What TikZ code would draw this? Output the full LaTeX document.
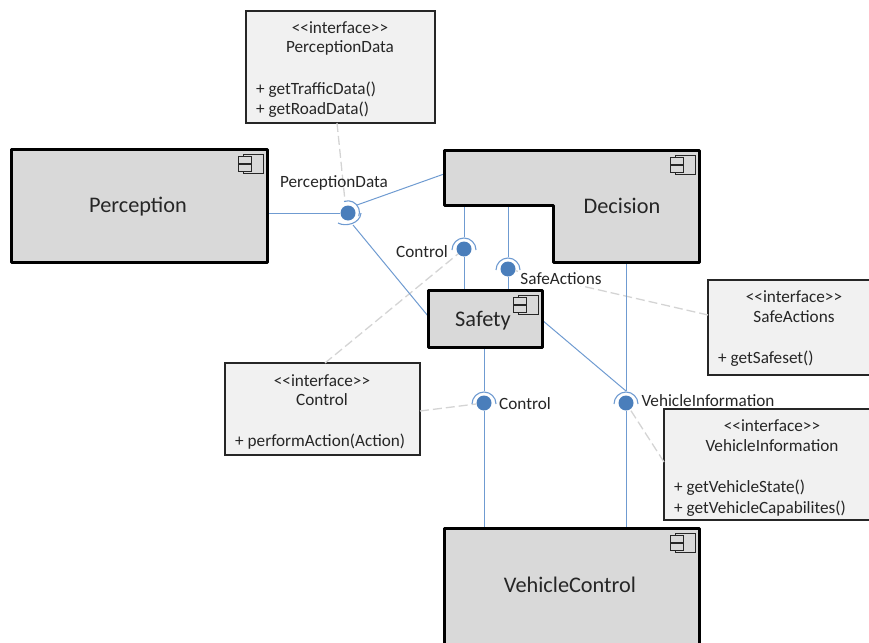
\documentclass[tikz,border=0pt]{standalone}
\usepackage{fontspec}
\usetikzlibrary{calc}
\setmainfont{Carlito}
\definecolor{txt}{HTML}{262626}
\definecolor{edgeblue}{HTML}{6F9BD1}
\definecolor{ballblue}{HTML}{4A7EBB}
\definecolor{dashgray}{HTML}{D4D4D4}
\definecolor{compfill}{HTML}{D9D9D9}
\definecolor{ifacefill}{HTML}{F1F1F1}
\tikzset{
  comp/.style={draw=black,line width=3pt,fill=compfill,line join=round},
  iface/.style={draw=txt,line width=2pt,fill=ifacefill},
  maintext/.style={text=txt,font=\fontsize{22.3}{24}\selectfont,inner sep=0pt},
  smalltext/.style={text=txt,font=\fontsize{17.2}{19}\selectfont,inner sep=0pt},
  lefttext/.style={smalltext,anchor=west},
  ball/.style={circle,fill=ballblue,minimum size=15pt,inner sep=0pt},
  wire/.style={draw=edgeblue,line width=1pt},
  sock/.style={draw=edgeblue,line width=1.1pt},
  dashline/.style={draw=dashgray,line width=1.3pt,dash pattern=on 9pt off 4pt},
  icon/.pic={
    \draw[line width=1pt,draw=txt] (-24,5) rectangle (-4,24);
    \draw[line width=1pt,draw=txt,fill=compfill] (-29,7) rectangle (-16,14);
    \draw[line width=1pt,draw=txt,fill=compfill] (-29,15) rectangle (-16,22);
  }
}
\begin{document}
\begin{tikzpicture}[x=1pt,y=-1pt]
\useasboundingbox (0,0) rectangle (869,642);
\clip (0,0) rectangle (869,642);

% balls
\node[ball] (bPD) at (348,213) {};
\node[ball] (bCu) at (464,249) {};
\node[ball] (bSA) at (508,269) {};
\node[ball] (bCl) at (484,403) {};
\node[ball] (bVI) at (626,403) {};

% connector end points
\coordinate (pE) at (267,213);
\coordinate (dW) at (444,174);
\coordinate (dS1) at (464,205);
\coordinate (dS2) at (508,205);
\coordinate (dS3) at (626,262);
\coordinate (sW) at (428,316);
\coordinate (sN1) at (464,290);
\coordinate (sN2) at (508,290);
\coordinate (sS) at (484,347);
\coordinate (sE) at (542,320);
\coordinate (vN1) at (484,528);
\coordinate (vN2) at (626,528);
\coordinate (aPD) at (357,205);
\coordinate (aPD2) at (353,225);
\coordinate (aCu) at (464,237);
\coordinate (aSA) at (508,257);
\coordinate (aCl) at (484,391);
\coordinate (aVI) at (626,391);

% interface boxes
\node[iface,minimum width=189pt,minimum height=112pt,inner sep=0pt] (ifPD) at (340.5,67) {};
\node[iface,minimum width=164pt,minimum height=95pt,inner sep=0pt] (ifSA) at (790,327.5) {};
\node[iface,minimum width=195pt,minimum height=92pt,inner sep=0pt] (ifC) at (322.5,409) {};
\node[iface,minimum width=209pt,minimum height=111pt,inner sep=0pt] (ifVI) at (768,464.5) {};

% dashed links
\coordinate (dPD) at (337,123);
\coordinate (dC) at (325,363);
\coordinate (dC2) at (420,411);
\coordinate (dSA) at (708,315);
\coordinate (dVI) at (664,462);
\draw[dashline] (dPD) -- (345,201);
\draw[dashline] (dC) -- (bCu);
\draw[dashline] (dC2) -- (bCl);
\draw[dashline] (dSA) -- (bSA);
\draw[dashline] (dVI) -- (bVI);

% wires
\draw[wire] (pE) -- (bPD);
\draw[wire] (dW) -- (aPD);
\draw[wire] (sW) -- (aPD2);
\draw[wire] (dS1) -- (aCu);
\draw[wire] (bCu) -- (sN1);
\draw[wire] (dS2) -- (aSA);
\draw[wire] (bSA) -- (sN2);
\draw[wire] (sS) -- (aCl);
\draw[wire] (bCl) -- (vN1);
\draw[wire] (dS3) -- (aVI);
\draw[wire] (sE) -- (aVI);
\draw[wire] (bVI) -- (vN2);

% sockets
\draw[sock] ($(bPD)+(-4,-11.5)$) arc[start angle=-110,end angle=20,radius=11.5];
\draw[sock] ($(bPD)+(-10,10)$) .. controls ($(bPD)+(-3,14)$) and ($(bPD)+(12,11)$) .. ($(bPD)+(13,0)$);
\draw[sock] ($(bCu)+(-12,1)$) arc[start angle=180,end angle=360,radius=12];
\draw[sock] ($(bSA)+(-12,1)$) arc[start angle=180,end angle=360,radius=12];
\draw[sock] ($(bCl)+(-12,1)$) arc[start angle=180,end angle=360,radius=12];
\draw[sock] ($(bVI)+(-12,1)$) arc[start angle=180,end angle=360,radius=12];

% components
\path[comp] (11,149) rectangle (267,262);
\node[maintext] (perc) at (138,207) {Perception};
\pic at (267,149) {icon};

\path[comp] (444,150) -- (699,150) -- (699,262) -- (553,262) -- (553,205) -- (444,205) -- cycle;
\node[maintext] (dec) at (622,205.5) {Decision};
\pic at (699,150) {icon};

\path[comp] (428,290) rectangle (542,347);
\node[maintext] (saf) at (483,321) {Safety};
\pic at (542,290) {icon};

\path[comp] (444,528) rectangle (699,660);
\node[maintext] (vc) at (570,585) {VehicleControl};
\pic at (699,528) {icon};

% labels
\node[smalltext] (lPD) at (334,182.5) {PerceptionData};
\node[smalltext] (lCu) at (422,251.5) {Control};
\node[smalltext,fill=white,inner sep=1pt] (lSA) at (561,278.5) {SafeActions};
\node[smalltext] (lCl) at (525,403.5) {Control};
\node[smalltext] (lVI) at (708,400.5) {VehicleInformation};

% interface texts
\node[smalltext] (t1) at (340,27.5) {<{}<interface>{}>};
\node[smalltext] (t2) at (340,48) {PerceptionData};
\node[lefttext] (t3) at (256,89.5) {+ getTrafficData()};
\node[lefttext] (t4) at (256,110) {+ getRoadData()};

\node[smalltext] (t5) at (794,296.5) {<{}<interface>{}>};
\node[smalltext] (t6) at (794,317) {SafeActions};
\node[lefttext] (t7) at (718,359) {+ getSafeset()};

\node[smalltext] (t8) at (322,380.5) {<{}<interface>{}>};
\node[smalltext] (t9) at (322,400) {Control};
\node[lefttext] (t10) at (235,442) {+ performAction(Action)};

\node[smalltext] (t11) at (772,425.5) {<{}<interface>{}>};
\node[smalltext] (t12) at (772,446) {VehicleInformation};
\node[lefttext] (t13) at (674,488) {+ getVehicleState()};
\node[lefttext] (t14) at (674,509) {+ getVehicleCapabilites()};
\end{tikzpicture}
\end{document}
